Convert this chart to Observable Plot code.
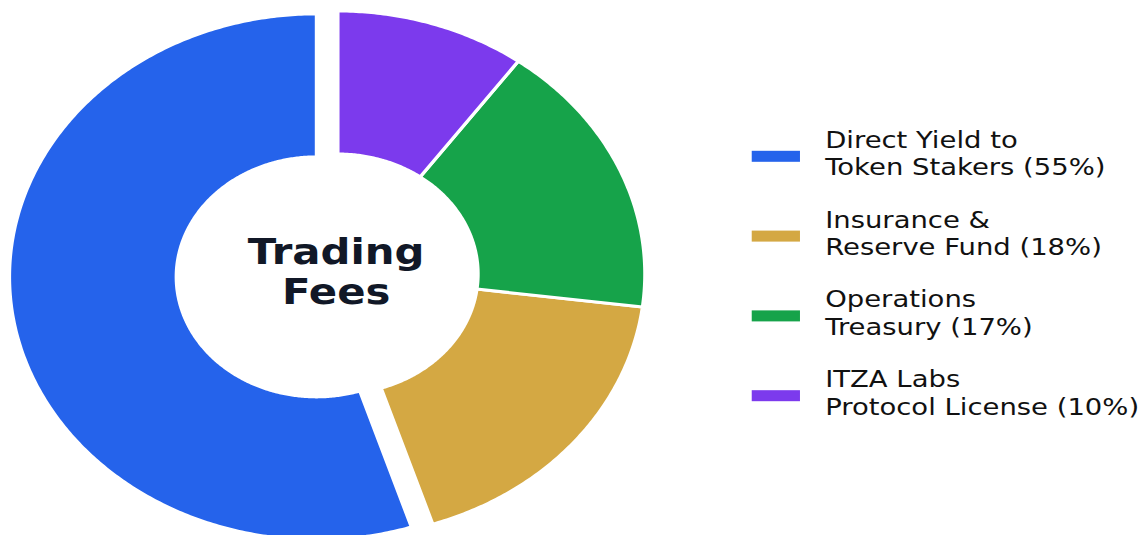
<!DOCTYPE html>
<html><head><meta charset="utf-8">
<script src="https://cdn.jsdelivr.net/npm/d3@7"></script>
<script src="https://cdn.jsdelivr.net/npm/@observablehq/plot@0.6"></script>
<style>body{margin:0;background:#fff;overflow:hidden} #chart svg{display:block}</style>
</head><body><div id="chart"></div>
<script>
const categories = ["Direct Yield to Token Stakers", "Insurance & Reserve Fund", "Operations Treasury", "ITZA Labs Protocol License"];
const legendLines = [["Direct Yield to", "Token Stakers (55%)"], ["Insurance &", "Reserve Fund (18%)"], ["Operations", "Treasury (17%)"], ["ITZA Labs", "Protocol License (10%)"]];
const shares = [55, 18, 17, 10];
const colors = ["#2563eb", "#d4a843", "#16a34a", "#7c3aed"];
const explode = [0.07, 0, 0, 0];
const centerLabel = ["Trading", "Fees"];

const OUTW = 1141, H = 535, S = 1.168, W = OUTW / S;
const cx = 288.7, cy = 273.5, R = 263, r = 120;

const arcs = d3.pie().sort(null).startAngle(0).endAngle(-2 * Math.PI)(shares);
const pts = [];
arcs.forEach((a, i) => {
  const mid = (a.startAngle + a.endAngle) / 2;
  const ox = cx + explode[i] * R * Math.sin(mid), oy = cy - explode[i] * R * Math.cos(mid);
  const n = Math.max(8, Math.ceil(Math.abs(a.endAngle - a.startAngle) / 0.01));
  for (let k = 0; k <= n; k++) {
    const t = a.startAngle + (a.endAngle - a.startAngle) * k / n;
    pts.push({cat: categories[i], x: ox + R * Math.sin(t), y: oy - R * Math.cos(t)});
  }
  for (let k = n; k >= 0; k--) {
    const t = a.startAngle + (a.endAngle - a.startAngle) * k / n;
    pts.push({cat: categories[i], x: ox + r * Math.sin(t), y: oy - r * Math.cos(t)});
  }
});

const centerFS = 35.8, centerGap = 40;
const centerData = centerLabel.map((t, j) => ({t, y: 263 + j * centerGap - 0.32 * centerFS}));

const legFS = 23.5, step = 79.8, base0 = 147.3, lineGap = 27.5;
const legendPatches = categories.map((c, i) => ({cat: c, y1: 150.8 + i * step, y2: 161.8 + i * step}));
const legendText = [];
legendLines.forEach((ls, i) => ls.forEach((t, j) => legendText.push({t, y: base0 + i * step + j * lineGap - 0.32 * legFS})));

const chart = Plot.plot({
  width: W, height: H, margin: 0,
  style: {fontFamily: "DejaVu Sans", background: "#fff"},
  x: {domain: [0, W], range: [0, W], axis: null},
  y: {domain: [0, H], range: [0, H], axis: null},
  color: {domain: categories, range: colors},
  marks: [
    Plot.line(pts, {x: "x", y: "y", z: "cat", fill: "cat", stroke: "white", strokeWidth: 3, curve: "linear-closed"}),
    Plot.text(centerData, {x: () => 287.3, y: "y", text: "t", fontSize: centerFS, fontWeight: "bold", fill: "#111827", textAnchor: "middle", lineAnchor: "middle", fontFamily: "DejaVu Sans"}),
    Plot.rect(legendPatches, {x1: () => 643.6, x2: () => 684.9, y1: "y1", y2: "y2", fill: "cat"}),
    Plot.text(legendText, {x: () => 706, y: "y", text: "t", fontSize: legFS, fill: "#111", textAnchor: "start", lineAnchor: "middle", fontFamily: "DejaVu Sans"})
  ]
});
chart.setAttribute("preserveAspectRatio", "none");
chart.setAttribute("width", OUTW);
chart.setAttribute("height", H);
chart.style.width = OUTW + "px";
chart.style.height = H + "px";
chart.style.maxWidth = "none";
document.getElementById("chart").appendChild(chart);
</script>
</body></html>
